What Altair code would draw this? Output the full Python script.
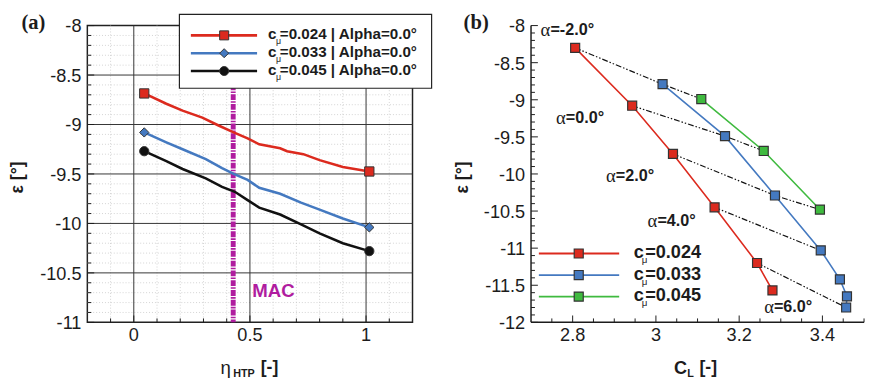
import altair as alt
import pandas as pd

FONT = "Liberation Sans"
SERIF = "Liberation Serif"
INK = "#1c1c1c"

# ---------------- panel (a) data ----------------
a_series = ["a 0.024", "a 0.033", "a 0.045"]
a_legend_text = ["=0.024 | Alpha=0.0°", "=0.033 | Alpha=0.0°", "=0.045 | Alpha=0.0°"]
a_colors = ["#dc2a1e", "#4479c0", "#111111"]
a_shapes = ["square", "diamond", "circle"]

a_eta_024 = [0.045, 0.14, 0.21, 0.295, 0.365, 0.43, 0.49, 0.54, 0.63, 0.66, 0.73, 0.80, 0.90, 1.014]
a_eps_024 = [-8.686, -8.79, -8.86, -8.93, -9.01, -9.08, -9.14, -9.20, -9.24, -9.27, -9.30, -9.36, -9.43, -9.475]
a_eta_033 = [0.045, 0.14, 0.21, 0.31, 0.38, 0.43, 0.49, 0.54, 0.63, 0.72, 0.80, 0.90, 1.014]
a_eps_033 = [-9.08, -9.18, -9.25, -9.35, -9.44, -9.50, -9.56, -9.64, -9.70, -9.79, -9.86, -9.95, -10.04]
a_eta_045 = [0.045, 0.14, 0.21, 0.31, 0.38, 0.435, 0.49, 0.54, 0.63, 0.72, 0.80, 0.90, 1.014]
a_eps_045 = [-9.27, -9.37, -9.45, -9.545, -9.63, -9.68, -9.765, -9.84, -9.91, -10.01, -10.10, -10.20, -10.28]

a_mac_eta = 0.428
a_mac_text = "MAC"
a_mac_text_eta = 0.51
a_mac_text_eps = -10.68

a_x_labels = [0, 0.5, 1]
a_y_labels = [-8, -8.5, -9, -9.5, -10, -10.5, -11]

# ---------------- panel (b) data ----------------
b_series = ["b 0.024", "b 0.033", "b 0.045"]
b_legend_text = ["=0.024", "=0.033", "=0.045"]
b_colors = ["#dc2a1e", "#4479c0", "#3fba3f"]
b_cl_024 = [2.806, 2.943, 3.041, 3.141, 3.243, 3.280]
b_eps_024 = [-8.30, -9.08, -9.73, -10.45, -11.20, -11.57]
b_alpha_024 = ["-2.0", "0.0", "2.0", "4.0", "6.0", ""]
b_cl_033 = [3.016, 3.166, 3.286, 3.396, 3.442, 3.459, 3.457]
b_eps_033 = [-8.79, -9.49, -10.29, -11.03, -11.42, -11.65, -11.80]
b_alpha_033 = ["-2.0", "0.0", "2.0", "4.0", "", "", "6.0"]
b_cl_045 = [3.109, 3.259, 3.394]
b_eps_045 = [-8.99, -9.69, -10.48]
b_alpha_045 = ["-2.0", "0.0", "2.0"]

b_alpha_labels = ["=-2.0°", "=0.0°", "=2.0°", "=4.0°", "=6.0°"]
b_alpha_label_cl = [2.723, 2.760, 2.880, 2.980, 3.260]
b_alpha_label_eps = [-8.066, -9.25, -10.03, -10.64, -11.80]

b_x_labels = [2.8, 3, 3.2, 3.4]
b_y_labels = [-8, -8.5, -9, -9.5, -10, -10.5, -11, -11.5, -12]

# shared colour table for both panels (colour scales are shared across the concat)
all_series = a_series + b_series
all_colors = a_colors + b_colors

# ---------------- sizes ----------------
WA, HA = 332, 303
WB, HB = 340, 303
LABEL_FS = 18.5


def steps(lo, hi, step, skip=()):
    out = []
    n = int(round((hi - lo) / step))
    for i in range(n + 1):
        v = round(lo + i * step, 4)
        if not any(abs(v - s) < 1e-6 for s in skip):
            out.append(v)
    return out


one = pd.DataFrame({"k": [0]})


def vrules(vals, scale, color, width, H, dash=None):
    kw = dict(color=color, strokeWidth=width)
    if dash:
        kw["strokeDash"] = dash
    return alt.Chart(pd.DataFrame({"v": vals})).mark_rule(**kw).encode(
        x=alt.X("v:Q", scale=scale, axis=None), y=alt.value(0), y2=alt.value(H))


def hrules(vals, scale, color, width, W, dash=None):
    kw = dict(color=color, strokeWidth=width)
    if dash:
        kw["strokeDash"] = dash
    return alt.Chart(pd.DataFrame({"v": vals})).mark_rule(**kw).encode(
        y=alt.Y("v:Q", scale=scale, axis=None), x=alt.value(0), x2=alt.value(W))


def yticks(vals, scale, length):
    return alt.Chart(pd.DataFrame({"v": vals})).mark_rule(color=INK, strokeWidth=1).encode(
        y=alt.Y("v:Q", scale=scale, axis=None), x=alt.value(0), x2=alt.value(length))


def xticks(vals, scale, length, H):
    return alt.Chart(pd.DataFrame({"v": vals})).mark_rule(color=INK, strokeWidth=1).encode(
        x=alt.X("v:Q", scale=scale, axis=None), y=alt.value(H), y2=alt.value(H - length))


def ylabels(vals, scale):
    df = pd.DataFrame({"v": vals, "lab": [f"{v:g}" for v in vals]})
    return alt.Chart(df).mark_text(font=FONT, fontSize=LABEL_FS, color=INK, align="right",
                                   baseline="middle", dx=-6, dy=1).encode(
        y=alt.Y("v:Q", scale=scale, axis=None), x=alt.value(0), text="lab:N")


def xlabels(vals, scale, H):
    df = pd.DataFrame({"v": vals, "lab": [f"{v:g}" for v in vals]})
    return alt.Chart(df).mark_text(font=FONT, fontSize=LABEL_FS, color=INK, align="center",
                                   baseline="middle").encode(
        x=alt.X("v:Q", scale=scale, axis=None), y=alt.value(H + 13), text="lab:N")


def txt(text, x, y, size=18, weight="bold", font=FONT, color=INK, align="left", angle=0):
    kw = dict(text=text, font=font, fontSize=size, fontWeight=weight, color=color,
              align=align, baseline="middle")
    if angle:
        kw["angle"] = angle
    return alt.Chart(one).mark_text(**kw).encode(x=alt.value(x), y=alt.value(y))


col_scale = alt.Scale(domain=all_series, range=all_colors)

# ================= panel (a) =================
xa = alt.Scale(domain=[-0.2, 1.2], nice=False, zero=False)
ya = alt.Scale(domain=[-11, -8], nice=False, zero=False)

rows = []
for s, xs, ys in zip(a_series, [a_eta_024, a_eta_033, a_eta_045], [a_eps_024, a_eps_033, a_eps_045]):
    for i, (x, y) in enumerate(zip(xs, ys)):
        rows.append({"series": s, "eta": x, "eps": y, "idx": i, "end": i == 0 or i == len(xs) - 1})
df_a = pd.DataFrame(rows)

a_layers = [
    vrules(steps(-0.1, 1.1, 0.1, skip=a_x_labels), xa, "#c8c8c8", 0.8, HA, dash=[1, 2]),
    hrules(steps(-10.9, -8.1, 0.1, skip=a_y_labels), ya, "#c8c8c8", 0.8, WA, dash=[1, 2]),
    vrules(a_x_labels, xa, "#333333", 1, HA),
    hrules([-8.5, -9, -9.5, -10, -10.5], ya, "#333333", 1, WA),
    alt.Chart(pd.DataFrame({"v": [a_mac_eta]})).mark_rule(
        color="#b01c9f", strokeWidth=5, strokeDash=[6, 1.2, 1.6, 1.2]).encode(
        x=alt.X("v:Q", scale=xa, axis=None), y=alt.value(0), y2=alt.value(HA)),
    alt.Chart(df_a).mark_line(strokeWidth=2.6).encode(
        x=alt.X("eta:Q", scale=xa, axis=None),
        y=alt.Y("eps:Q", scale=ya, axis=None),
        color=alt.Color("series:N", scale=col_scale, legend=None), order="idx:Q", detail="series:N"),
    alt.Chart(df_a).transform_filter("datum.end").mark_point(
        filled=True, size=90, stroke="#333333", strokeWidth=1, opacity=1).encode(
        x=alt.X("eta:Q", scale=xa, axis=None), y=alt.Y("eps:Q", scale=ya, axis=None),
        fill=alt.Fill("series:N", scale=col_scale, legend=None),
        shape=alt.Shape("series:N", scale=alt.Scale(domain=a_series, range=a_shapes), legend=None)),
    yticks(a_y_labels, ya, 7),
    yticks(steps(-10.9, -8.1, 0.1, skip=a_y_labels), ya, 4),
    xticks(a_x_labels, xa, 7, HA),
    xticks(steps(-0.1, 1.1, 0.1, skip=a_x_labels), xa, 4, HA),
    ylabels(a_y_labels, ya),
    xlabels(a_x_labels, xa, HA),
    alt.Chart(pd.DataFrame({"x": [a_mac_text_eta], "y": [a_mac_text_eps], "t": [a_mac_text]})).mark_text(
        font=FONT, fontSize=19, fontWeight="bold", color="#b01c9f", align="left", baseline="middle").encode(
        x=alt.X("x:Q", scale=xa, axis=None), y=alt.Y("y:Q", scale=ya, axis=None), text="t:N"),
    # legend box
    alt.Chart(one).mark_rect(fill="white", stroke="#222222", strokeWidth=1.2).encode(
        x=alt.value(94), x2=alt.value(351.5), y=alt.value(-11.4), y2=alt.value(64)),
]
for i, (lab, c, shp) in enumerate(zip(a_legend_text, a_colors, a_shapes)):
    yy = 10 + 18.2 * i
    a_layers += [
        alt.Chart(one).mark_rule(color=c, strokeWidth=2.6).encode(
            x=alt.value(105.7), x2=alt.value(173.3), y=alt.value(yy)),
        alt.Chart(one).mark_point(filled=True, shape=shp, size=85, fill=c, stroke="#333333",
                                  strokeWidth=1, opacity=1).encode(x=alt.value(139.7), y=alt.value(yy)),
        txt("c", 184.5, yy - 1, size=15.5),
        txt("μ", 192.5, yy + 6, size=9, weight="normal"),
        txt(lab, 196.5, yy - 1, size=15.5),
    ]
a_layers += [
    txt("(a)", -55, -2, size=21, font=SERIF, align="center"),
    txt("ε [°]", -71, 155, size=18, align="center", angle=270),
    txt("η", 136, 350, size=19, weight="normal", font=FONT),
    txt("HTP", 149, 356, size=11),
    txt("[-]", 177, 350, size=18),
]
panel_a = alt.layer(*a_layers).properties(
    width=WA, height=HA, view=alt.ViewBackground(stroke="#222222", strokeWidth=1.5))

# ================= panel (b) =================
xb = alt.Scale(domain=[2.7, 3.5], nice=False, zero=False)
yb = alt.Scale(domain=[-12, -8], nice=False, zero=False)

rows = []
for s, xs, ys, als in zip(b_series, [b_cl_024, b_cl_033, b_cl_045], [b_eps_024, b_eps_033, b_eps_045],
                          [b_alpha_024, b_alpha_033, b_alpha_045]):
    for i, (x, y, a) in enumerate(zip(xs, ys, als)):
        rows.append({"series": s, "cl": x, "eps": y, "idx": i, "alpha": a, "sidx": b_series.index(s)})
df_b = pd.DataFrame(rows)

b_layers = [
    alt.Chart(df_b).transform_filter("datum.alpha != ''").mark_line(
        color="#111111", strokeWidth=1.2, strokeDash=[6, 2, 1.5, 2, 1.5, 2]).encode(
        x=alt.X("cl:Q", scale=xb, axis=None), y=alt.Y("eps:Q", scale=yb, axis=None),
        detail="alpha:N", order="sidx:Q"),
    alt.Chart(df_b).mark_line(strokeWidth=1.6).encode(
        x=alt.X("cl:Q", scale=xb, axis=None),
        y=alt.Y("eps:Q", scale=yb, axis=None),
        color=alt.Color("series:N", scale=col_scale, legend=None), order="idx:Q", detail="series:N"),
    alt.Chart(df_b).mark_point(filled=True, shape="square", size=85, stroke="#333333",
                               strokeWidth=1.2, opacity=1).encode(
        x=alt.X("cl:Q", scale=xb, axis=None), y=alt.Y("eps:Q", scale=yb, axis=None),
        fill=alt.Fill("series:N", scale=col_scale, legend=None)),
    yticks(b_y_labels, yb, 7),
    yticks(steps(-11.9, -8.1, 0.1, skip=b_y_labels), yb, 4),
    xticks(b_x_labels, xb, 7, HB),
    xticks(steps(2.75, 3.5, 0.05, skip=b_x_labels), xb, 4, HB),
    ylabels(b_y_labels, yb),
    xlabels(b_x_labels, xb, HB),
    # axis lines
    alt.Chart(one).mark_rule(color=INK, strokeWidth=1.5).encode(
        x=alt.value(0), y=alt.value(0), y2=alt.value(HB)),
    alt.Chart(one).mark_rule(color=INK, strokeWidth=1.5).encode(
        x=alt.value(0), x2=alt.value(WB), y=alt.value(HB)),
]
df_lab = pd.DataFrame({"x": b_alpha_label_cl, "y": b_alpha_label_eps, "t": b_alpha_labels})
b_layers += [
    alt.Chart(df_lab).mark_text(text="α", font=SERIF, fontSize=19, color=INK, align="left",
                                baseline="middle").encode(
        x=alt.X("x:Q", scale=xb, axis=None), y=alt.Y("y:Q", scale=yb, axis=None)),
    alt.Chart(df_lab).mark_text(font=FONT, fontSize=16.5, fontWeight="bold", color=INK, align="left",
                                baseline="middle", dx=10).encode(
        x=alt.X("x:Q", scale=xb, axis=None), y=alt.Y("y:Q", scale=yb, axis=None), text="t:N"),
]
for i, (lab, c) in enumerate(zip(b_legend_text, b_colors)):
    yy = 232.7 + 22 * i
    b_layers += [
        alt.Chart(one).mark_rule(color=c, strokeWidth=1.8).encode(
            x=alt.value(8), x2=alt.value(90), y=alt.value(yy)),
        alt.Chart(one).mark_point(filled=True, shape="square", size=85, fill=c, stroke="#333333",
                                  strokeWidth=1.2, opacity=1).encode(x=alt.value(48.7), y=alt.value(yy)),
        txt("c", 105, yy - 1, size=18.5),
        txt("μ", 113, yy + 7, size=10, weight="normal"),
        txt(lab, 116.5, yy - 1, size=18.5),
    ]
b_layers += [
    txt("(b)", -56, -2, size=21, font=SERIF, align="center"),
    txt("ε [°]", -69, 155, size=18, align="center", angle=270),
    txt("C", 146, 350, size=18.5),
    txt("L", 159.5, 356, size=11),
    txt("[-]", 172, 350, size=18),
]
panel_b = alt.layer(*b_layers).properties(
    width=WB, height=HB, view=alt.ViewBackground(stroke="transparent"))

chart = alt.hconcat(panel_a, panel_b, spacing=121, bounds="flush", padding=0).configure(
    background="white")

chart.save("out.html", embed_options={"renderer": "svg", "actions": False})
